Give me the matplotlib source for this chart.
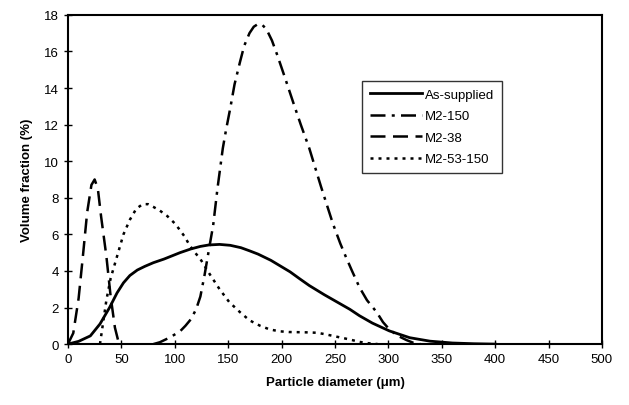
import numpy as np
import matplotlib.pyplot as plt

plt.rcParams['font.family'] = ['Liberation Sans', 'DejaVu Sans']

# As-supplied
as_x = [0, 10, 21, 30, 39, 46, 52, 58, 65, 72, 80, 90, 105, 115, 124, 132, 142, 152, 162,
        170, 178, 190, 198, 208, 217, 226, 240, 255, 264, 273, 285, 301, 320, 339, 360, 380, 400]
as_y = [0, 0.15, 0.45, 1.1, 2.0, 2.8, 3.35, 3.75, 4.05, 4.25, 4.45, 4.65, 5.0, 5.2, 5.34,
        5.42, 5.45, 5.4, 5.27, 5.1, 4.92, 4.58, 4.3, 3.95, 3.57, 3.2, 2.7, 2.2, 1.9, 1.55, 1.15,
        0.72, 0.35, 0.16, 0.06, 0.02, 0]

# M2-150
m150_x = [80, 86, 95, 105, 110, 115, 120, 124, 128, 133, 136, 140, 145, 148, 152, 156, 161,
          165, 170, 174, 178, 182, 186, 191, 196, 203, 211, 218, 226, 237, 248, 255, 260, 266,
          273, 280, 289, 295, 301, 309, 317, 323, 330]
m150_y = [0, 0.1, 0.35, 0.7, 1.0, 1.35, 1.9, 2.6, 3.8, 5.5, 6.5, 8.5, 10.7, 11.7, 12.9, 14.2,
          15.4, 16.3, 17.0, 17.35, 17.5, 17.45, 17.2, 16.6, 15.8, 14.6, 13.2, 12.0, 10.7, 8.6,
          6.6, 5.5, 4.8, 4.0, 3.1, 2.4, 1.75, 1.2, 0.8, 0.45, 0.22, 0.08, 0]

# M2-38
m38_x = [0, 5, 10, 14, 18, 22, 25, 28, 31, 36, 40, 44, 47, 50]
m38_y = [0, 0.6, 2.5, 4.8, 7.2, 8.7, 9.0, 8.5, 7.0, 4.8, 2.6, 0.9, 0.2, 0]

# M2-53-150
m53_x = [30, 33, 36, 40, 46, 52, 58, 64, 70, 75, 80, 86, 93, 100, 104, 109, 114, 119, 124,
         133, 142, 151, 161, 170, 180, 189, 198, 207, 217, 225, 233, 240, 248, 256, 264, 273,
         281, 290]
m53_y = [0, 1.2, 2.4, 3.6, 4.8, 6.0, 6.8, 7.4, 7.65, 7.65, 7.5, 7.3, 7.0, 6.6, 6.3, 5.9, 5.4,
         5.0, 4.65, 3.8, 3.0, 2.3, 1.75, 1.3, 1.0, 0.8, 0.7, 0.66, 0.65, 0.64, 0.62, 0.55, 0.45,
         0.35, 0.25, 0.12, 0.05, 0]

fig = plt.figure(figsize=(6.29, 4.06), dpi=100)
ax = fig.add_axes([0.108, 0.150, 0.849, 0.811])

ax.plot(as_x, as_y, color='black', lw=2.0, ls='-', label='As-supplied')
ax.plot(m150_x, m150_y, color='black', lw=1.8, ls=(0, (6, 2.5, 1.2, 2.5)), label='M2-150')
ax.plot(m38_x, m38_y, color='black', lw=1.8, ls=(0, (6, 3)), label='M2-38')
ax.plot(m53_x, m53_y, color='black', lw=1.8, ls=(0, (1.2, 2)), label='M2-53-150')

ax.set_xlim(0, 500)
ax.set_ylim(0, 18)
ax.set_xticks(np.arange(0, 501, 50))
ax.set_yticks(np.arange(0, 19, 2))
ax.tick_params(direction='inout', length=6, width=1, labelsize=9.5, color='black')
for s in ax.spines.values():
    s.set_linewidth(1.5)

ax.set_xlabel('Particle diameter (\u03bcm)', fontsize=9.5, fontweight='bold', labelpad=8)
ax.set_ylabel('Volume fraction (%)', fontsize=9.5, fontweight='bold', labelpad=8)

leg = ax.legend(loc='upper left', bbox_to_anchor=(0.55, 0.80), borderaxespad=0,
                fancybox=False, edgecolor='black', fontsize=9.5, handlelength=4,
                handletextpad=0.2, labelspacing=0.7, borderpad=0.6)
leg.get_frame().set_linewidth(1.0)

fig.savefig('out.png', dpi=100)
